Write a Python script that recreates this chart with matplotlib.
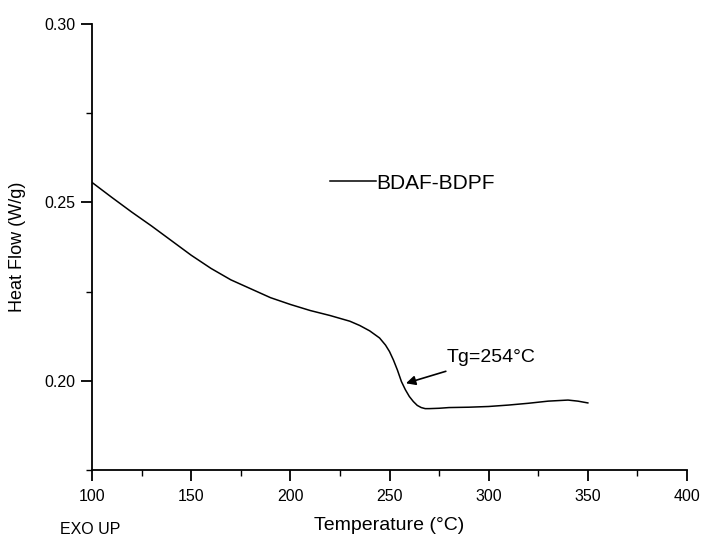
import matplotlib
matplotlib.use("Agg")
import matplotlib.pyplot as plt
from matplotlib.ticker import MultipleLocator

plt.rcParams['font.family'] = ['Liberation Sans', 'DejaVu Sans']

temperature = [100, 110, 120, 130, 140, 150, 160, 170, 180, 190, 200, 210, 220,
               230, 235, 240, 245, 248, 250, 252, 254, 256, 258, 260, 262, 264,
               266, 268, 270, 275, 280, 290, 300, 310, 320, 330, 340, 345, 350]
heat_flow = [0.2556, 0.2514, 0.2473, 0.2434, 0.2393, 0.2352, 0.2315, 0.2283,
             0.2258, 0.2233, 0.2214, 0.2197, 0.2183, 0.2167, 0.2155, 0.2140,
             0.2120, 0.2100, 0.2082, 0.2058, 0.2030, 0.1998, 0.1975, 0.1956,
             0.1942, 0.1931, 0.1925, 0.1922, 0.1922, 0.1923, 0.1925, 0.1926,
             0.1928, 0.1932, 0.1937, 0.1943, 0.1946, 0.1943, 0.1938]
series_name = "BDAF-BDPF"
x_ticks = [100, 150, 200, 250, 300, 350, 400]
y_ticks = [0.20, 0.25, 0.30]

fig = plt.figure(figsize=(7.01, 5.40), dpi=100)
ax = fig.add_axes([92/701, 70/540, 595/701, 446/540])

ax.plot(temperature, heat_flow, color='black', lw=1.1, label=series_name)

ax.set_xlim(100, 400)
ax.set_ylim(0.175, 0.30)
ax.set_xticks(x_ticks)
ax.set_yticks(y_ticks)
ax.set_yticklabels([f"{v:.2f}" for v in y_ticks])
ax.xaxis.set_minor_locator(MultipleLocator(25))
ax.yaxis.set_minor_locator(MultipleLocator(0.025))

for s in ['top', 'right']:
    ax.spines[s].set_visible(False)
for s in ['left', 'bottom']:
    ax.spines[s].set_linewidth(1.3)

ax.tick_params(which='major', direction='out', length=8, width=1.3, labelsize=11.5)
ax.tick_params(which='minor', direction='out', length=4.5, width=1.0)
ax.tick_params(axis='x', which='major', pad=6)
ax.tick_params(axis='y', which='major', pad=4)

ax.set_xlabel("Temperature (°C)", fontsize=14)
ax.xaxis.set_label_coords(0.5, -0.105)
ax.set_ylabel("Heat Flow (W/g)", fontsize=13)
ax.yaxis.set_label_coords(-0.111, 0.5)

ax.legend(loc='center left', bbox_to_anchor=(0.40, 0.643), frameon=False,
          fontsize=15, handlelength=2.2, handletextpad=0.0, borderpad=0,
          borderaxespad=0)

ax.annotate("Tg=254°C", xy=(258.3, 0.1993), xytext=(278.9, 0.2065),
            fontsize=14, va='center', ha='left',
            arrowprops=dict(arrowstyle='-|>', color='black', lw=1.2,
                            mutation_scale=14, shrinkA=6, shrinkB=0))

fig.text(60/701, 1 - 529/540, "EXO UP", fontsize=11.5, ha='left', va='center')

fig.savefig("out.png", dpi=100)
